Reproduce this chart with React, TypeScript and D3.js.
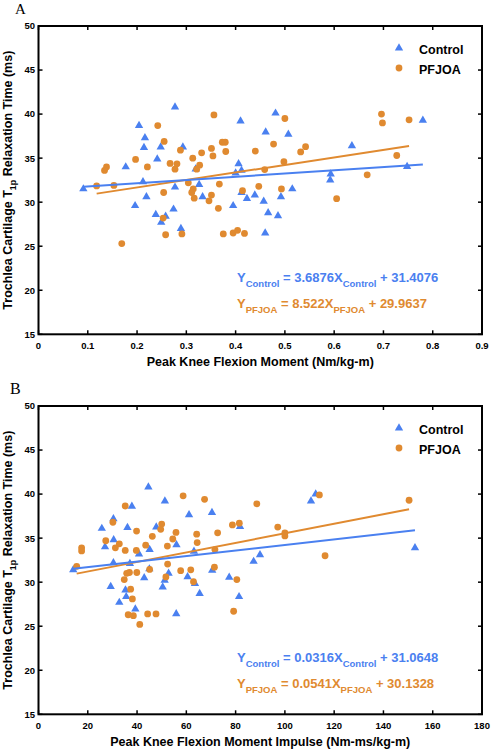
import React from "react";
import * as d3 from "d3";

// Panel A: Peak Knee Flexion Moment (Nm/kg-m) vs T1p (ms)
const controlA: [number, number][] = [
  [0.091, 31.5], [0.277, 40.8], [0.204, 38.7], [0.216, 37.3], [0.214, 36.2], [0.248, 36.25],
  [0.41, 39.2], [0.481, 40.1], [0.461, 37.95], [0.293, 36.25], [0.177, 34.0], [0.241, 34.9],
  [0.212, 32.3], [0.319, 33.75], [0.406, 34.35], [0.412, 33.6], [0.4, 33.3], [0.277, 31.7],
  [0.219, 30.6], [0.326, 32.0], [0.333, 30.6], [0.423, 30.4], [0.439, 30.8], [0.412, 31.1],
  [0.457, 30.1], [0.395, 29.6], [0.196, 29.6], [0.274, 29.2], [0.238, 28.6], [0.258, 28.4],
  [0.249, 27.7], [0.289, 27.0], [0.46, 26.5], [0.466, 28.8], [0.486, 28.45], [0.78, 39.3],
  [0.507, 37.7], [0.636, 36.4], [0.593, 33.2], [0.592, 32.5], [0.748, 34.05], [0.515, 31.5],
  [0.492, 30.6],
];
const pfjoaA: [number, number][] = [
  [0.356, 39.9], [0.242, 38.7], [0.255, 36.9], [0.288, 35.9], [0.373, 36.8], [0.379, 36.8],
  [0.351, 36.1], [0.331, 35.6], [0.38, 35.75], [0.354, 35.25], [0.44, 35.8], [0.477, 36.6],
  [0.197, 34.85], [0.313, 35.0], [0.221, 34.0], [0.267, 34.4], [0.281, 34.35], [0.277, 33.75],
  [0.327, 34.2], [0.321, 33.75], [0.138, 34.0], [0.134, 33.6], [0.118, 31.85], [0.153, 31.9],
  [0.304, 32.2], [0.367, 32.05], [0.459, 33.7], [0.314, 31.5], [0.311, 31.1], [0.316, 30.45],
  [0.254, 31.1], [0.351, 30.8], [0.346, 30.15], [0.414, 31.3], [0.447, 31.8], [0.365, 29.3],
  [0.253, 28.2], [0.169, 25.3], [0.258, 26.3], [0.291, 26.4], [0.375, 26.4], [0.395, 26.5],
  [0.404, 26.8], [0.418, 26.45], [0.493, 31.5], [0.5, 39.5], [0.542, 36.3], [0.532, 35.7],
  [0.696, 40.0], [0.698, 39.0], [0.752, 39.35], [0.498, 34.6], [0.727, 35.3], [0.667, 33.1],
  [0.605, 30.4],
];
const fitA = {
  control: { slope: 3.6876, intercept: 31.4076 },
  pfjoa: { slope: 8.522, intercept: 29.9637 },
};
const xTicksA = [0, 0.1, 0.2, 0.3, 0.4, 0.5, 0.6, 0.7, 0.8, 0.9];

// Panel B: Peak Knee Flexion Moment Impulse (Nm-ms/kg-m) vs T1p (ms)
const controlB: [number, number][] = [
  [44.6, 40.8], [37.9, 38.6], [51.3, 39.2], [30.4, 37.2], [25.7, 36.1], [36.1, 36.2],
  [47.8, 36.25], [61.1, 37.65], [70.4, 37.9], [81.8, 36.3], [27.0, 34.0], [30.5, 34.8],
  [40.8, 33.2], [45.1, 33.7], [56.0, 34.25], [63.1, 33.5], [30.4, 32.2], [14.1, 31.4],
  [37.1, 32.1], [45.0, 31.5], [52.8, 31.0], [42.9, 30.5], [51.2, 30.2], [60.5, 30.6],
  [63.5, 29.85], [70.5, 31.35], [77.4, 30.55], [87.3, 32.35], [89.9, 33.1], [29.3, 29.5],
  [50.4, 29.45], [65.4, 28.7], [81.4, 28.35], [35.3, 29.1], [35.6, 28.35], [32.8, 27.7],
  [39.3, 26.95], [55.9, 26.4], [110.6, 39.2], [112.5, 40.0], [152.8, 33.9],
];
const pfjoaB: [number, number][] = [
  [58.7, 39.8], [67.4, 39.4], [35.2, 38.65], [30.2, 36.8], [50.0, 36.6], [49.6, 36.0],
  [39.8, 35.8], [55.8, 35.65], [72.7, 35.6], [78.7, 36.5], [81.5, 36.7], [27.3, 34.7],
  [32.8, 34.35], [31.2, 33.9], [35.2, 33.6], [43.5, 34.2], [46.2, 35.2], [52.3, 34.1],
  [54.5, 34.9], [64.2, 35.45], [64.4, 34.5], [17.5, 33.9], [17.5, 33.55], [39.7, 33.6],
  [71.6, 33.7], [15.5, 31.8], [52.4, 32.05], [61.8, 31.4], [71.4, 31.7], [88.6, 38.9],
  [36.9, 31.1], [35.8, 31.0], [39.9, 31.1], [34.8, 30.3], [45.1, 31.45], [57.7, 31.3],
  [51.7, 30.6], [62.9, 30.05], [80.5, 30.3], [37.4, 29.2], [38.1, 28.1], [36.4, 26.3],
  [38.5, 26.2], [44.3, 26.4], [47.7, 26.4], [79.2, 26.7], [41.1, 25.2], [114.0, 39.9],
  [150.4, 39.3], [97.1, 36.25], [100.0, 35.6], [100.0, 35.25], [116.3, 33.0],
];
const fitB = {
  control: { slope: 0.0316, intercept: 31.0648 },
  pfjoa: { slope: 0.0541, intercept: 30.1328 },
};
const xTicksB = [0, 20, 40, 60, 80, 100, 120, 140, 160, 180];

const yTicks = [15, 20, 25, 30, 35, 40, 45, 50];
const seriesNames = ["Control", "PFJOA"];
const eqA = ["3.6876", "31.4076", "8.522", "29.9637"];
const eqB = ["0.0316", "31.0648", "0.0541", "30.1328"];

const BLUE = "#4a80f0";
const ORANGE = "#e08a30";
const FONT = "'Liberation Sans', Arial, Helvetica, sans-serif";

type PanelProps = {
  top: number;
  letter: string;
  letterX: number;
  letterSize: number;
  control: [number, number][];
  pfjoa: [number, number][];
  fit: typeof fitA;
  xTicks: number[];
  xDomain: [number, number];
  xLabel: string;
  eq: string[];
};

function Panel(p: PanelProps) {
  const left = 38.5;
  const right = 482;
  const top = p.top;
  const bottom = p.top + 308.3;
  const x = d3.scaleLinear().domain(p.xDomain).range([left, right]);
  const y = d3.scaleLinear().domain([15, 50]).range([bottom, top]);
  const tri = d3.symbol().type(d3.symbolTriangle).size(30)()!;
  const tickLen = 4;
  const line = d3
    .line<[number, number]>()
    .x((d) => x(d[0]))
    .y((d) => y(d[1]));
  const fitLine = (data: [number, number][], f: { slope: number; intercept: number }) => {
    const [x0, x1] = d3.extent(data, (d) => d[0]) as [number, number];
    return line([
      [x0, f.slope * x0 + f.intercept],
      [x1, f.slope * x1 + f.intercept],
    ]);
  };
  const fmt = (v: number) => (p.xDomain[1] < 2 ? (v === 0 ? "0" : d3.format(".1f")(v)) : String(v));
  const eqX = 237;
  const eqY1 = top + 255.5;
  const eqY2 = top + 281.5;
  const eqText = (yPos: number, color: string, name: string, slope: string, icpt: string) => (
    <text x={eqX} y={yPos} fill={color} fontFamily={FONT} fontWeight="bold" fontSize={13} style={{ whiteSpace: "pre" }}>
      <tspan>Y</tspan>
      <tspan dy={5} fontSize={9.5}>{name}</tspan>
      <tspan dy={-5}>{` = ${slope}X`}</tspan>
      <tspan dy={5} fontSize={9.5}>{name}</tspan>
      <tspan dy={-5}>{` + ${icpt}`}</tspan>
    </text>
  );
  return (
    <g>
      <text x={p.letterX} y={top - 12} fontFamily="'Liberation Serif', 'Times New Roman', serif" fontSize={p.letterSize}>
        {p.letter}
      </text>
      {/* ticks */}
      {yTicks.map((t) => (
        <g key={"y" + t}>
          <line x1={left} x2={left + tickLen} y1={y(t)} y2={y(t)} stroke="#000" strokeWidth={1.5} />
          <line x1={right} x2={right - tickLen} y1={y(t)} y2={y(t)} stroke="#000" strokeWidth={1.5} />
          <text x={35} y={y(t) + 3.4} textAnchor="end" fontFamily={FONT} fontWeight="bold" fontSize={9.5}>
            {t}
          </text>
        </g>
      ))}
      {p.xTicks.map((t) => (
        <g key={"x" + t}>
          <line x1={x(t)} x2={x(t)} y1={bottom} y2={bottom - tickLen} stroke="#000" strokeWidth={1.5} />
          <line x1={x(t)} x2={x(t)} y1={top} y2={top + tickLen} stroke="#000" strokeWidth={1.5} />
          <text x={x(t)} y={bottom + 15} textAnchor="middle" fontFamily={FONT} fontWeight="bold" fontSize={9.5}>
            {fmt(t)}
          </text>
        </g>
      ))}
      <rect x={left} y={top} width={right - left} height={bottom - top} fill="none" stroke="#000" strokeWidth={2} />
      {/* points */}
      {p.control.map((d, i) => (
        <path key={"c" + i} d={tri} transform={`translate(${x(d[0])},${y(d[1])})`} fill={BLUE} />
      ))}
      {p.pfjoa.map((d, i) => (
        <circle key={"p" + i} cx={x(d[0])} cy={y(d[1])} r={3.4} fill={ORANGE} />
      ))}
      <path d={fitLine(p.pfjoa, p.fit.pfjoa) ?? ""} stroke={ORANGE} strokeWidth={2} fill="none" />
      <path d={fitLine(p.control, p.fit.control) ?? ""} stroke={BLUE} strokeWidth={2} fill="none" />
      {/* legend */}
      <path d={tri} transform={`translate(399,${top + 22})`} fill={BLUE} />
      <text x={419} y={top + 28} fontFamily={FONT} fontWeight="bold" fontSize={12.5}>
        {seriesNames[0]}
      </text>
      <circle cx={399} cy={top + 42} r={3.4} fill={ORANGE} />
      <text x={419} y={top + 48} fontFamily={FONT} fontWeight="bold" fontSize={12.5}>
        {seriesNames[1]}
      </text>
      {eqText(eqY1, BLUE, "Control", p.eq[0], p.eq[1])}
      {eqText(eqY2, ORANGE, "PFJOA", p.eq[2], p.eq[3])}
      {/* axis labels */}
      <text x={(left + right) / 2} y={bottom + 32} textAnchor="middle" fontFamily={FONT} fontWeight="bold" fontSize={12.5}>
        {p.xLabel}
      </text>
      <text
        transform={`translate(12,${(top + bottom) / 2}) rotate(-90)`}
        textAnchor="middle"
        fontFamily={FONT}
        fontWeight="bold"
        fontSize={12.5}
      >
        <tspan>Trochlea Cartilage T</tspan>
        <tspan dy={4} fontSize={9}>1p</tspan>
        <tspan dy={-4}>{" Relaxation Time (ms)"}</tspan>
      </text>
    </g>
  );
}

export default function App() {
  return (
    <svg width={492} height={750} style={{ position: "absolute", left: 0, top: 0, background: "#fff" }}>
      <rect width={492} height={750} fill="#fff" />
      <Panel
        top={26}
        letter="A"
        letterX={15}
        letterSize={15}
        control={controlA}
        pfjoa={pfjoaA}
        fit={fitA}
        xTicks={xTicksA}
        xDomain={[0, 0.9]}
        xLabel="Peak Knee Flexion Moment (Nm/kg-m)"
        eq={eqA}
      />
      <Panel
        top={406}
        letter="B"
        letterX={10}
        letterSize={16}
        control={controlB}
        pfjoa={pfjoaB}
        fit={fitB}
        xTicks={xTicksB}
        xDomain={[0, 180]}
        xLabel="Peak Knee Flexion Moment Impulse (Nm-ms/kg-m)"
        eq={eqB}
      />
    </svg>
  );
}
